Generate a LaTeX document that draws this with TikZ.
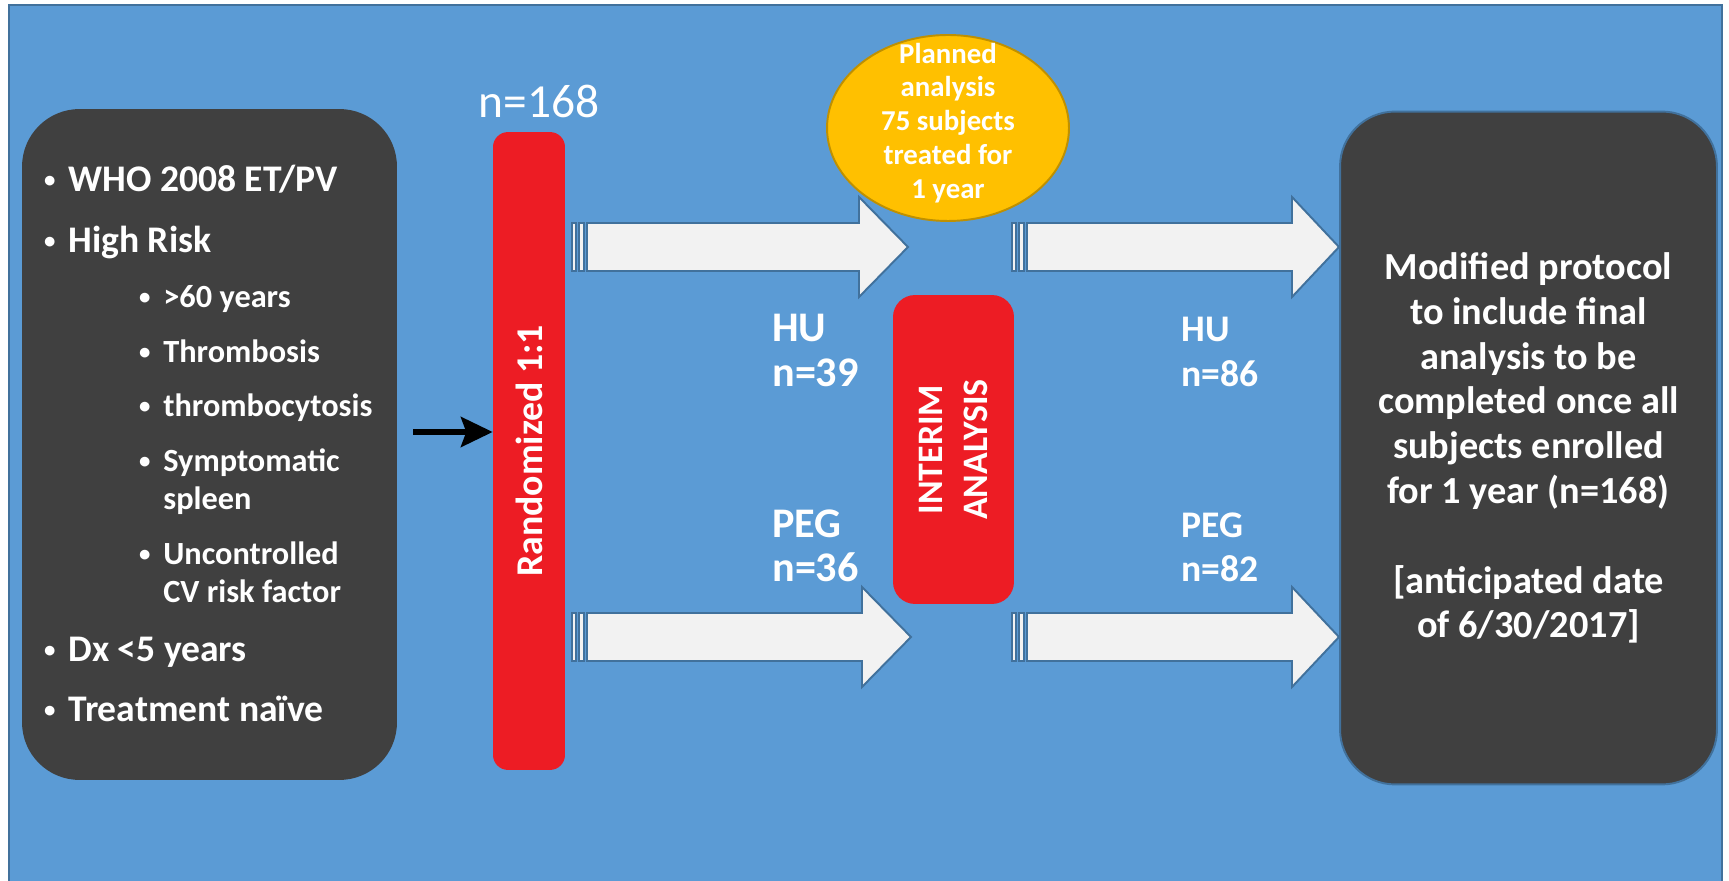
\documentclass[tikz,border=0pt]{standalone}
\usepackage{fontspec}
\setmainfont{Carlito}
\usepackage{tikz}
\usetikzlibrary{arrows.meta, positioning, shapes.geometric, calc}
\definecolor{bgblue}{HTML}{5B9BD5}
\definecolor{edgeblue}{HTML}{41719C}
\definecolor{darkbox}{HTML}{404040}
\definecolor{redbar}{HTML}{ED1C24}
\definecolor{gold}{HTML}{FFC000}
\definecolor{golddark}{HTML}{BF9000}
\definecolor{arrowfill}{HTML}{F2F2F2}
\newcommand{\dotmark}{\llap{\makebox[21pt]{\raisebox{0.12em}{\fontsize{13}{13}\selectfont\textbullet}}}}
\tikzset{%
	panel/.style={fill=darkbox, rounded corners=1.15cm, inner sep=0mm, text=white,%
		align=center, font=\fontsize{21.8}{25.5}\selectfont\bfseries},
	bar/.style={fill=redbar, text=white, inner sep=0mm, align=center,%
		font=\fontsize{20.4}{25.5}\selectfont\bfseries},
	plan/.style={ellipse, draw=golddark, fill=gold, line width=1.1pt, inner sep=0mm},
	plantext/.style={text=white, align=center, inner sep=0mm,%
		font=\fontsize{16.4}{19.3}\selectfont\bfseries},
	txt/.style={text=white, inner sep=0mm, anchor=base west},
	lbl/.style={txt, font=\fontsize{21.4}{24.5}\selectfont\bfseries},
	biglbl/.style={txt, font=\fontsize{24}{27}\selectfont\bfseries},
	item/.style={lbl, execute at begin node=\dotmark},
	subitem/.style={txt, font=\fontsize{18.4}{21.5}\selectfont\bfseries,%
		execute at begin node=\dotmark},
	subcont/.style={txt, font=\fontsize{18.4}{21.5}\selectfont\bfseries},
	blk/.style={draw=edgeblue, fill=arrowfill, line width=1.1pt},
	conn/.style={-{Stealth[length=18pt, width=17pt, inset=3pt]}, line width=3.4pt, black}
}
% striped block arrow: tail x, head start x, tip x, centre y
\newcommand{\stripearrow}[4]{%
	\draw[blk] (#1,#4-24) rectangle (#1+4,#4+24);
	\draw[blk] (#1+7,#4-24) rectangle (#1+12,#4+24);
	\draw[blk] (#1+15,#4-24) -- (#2,#4-24) -- (#2,#4-50) -- (#3,#4)
		-- (#2,#4+50) -- (#2,#4+24) -- (#1+15,#4+24) -- cycle;
}

\begin{document}
\begin{tikzpicture}[x=0.02cm, y=-0.02cm]
	\useasboundingbox (0,0) rectangle (1729,881);
	\draw[edgeblue, fill=bgblue, line width=1.6pt] (9,5) rectangle (1722,895);

	% inclusion criteria
	\node[panel, minimum width=7.5cm, minimum height=13.42cm] (crit) at (209.5,444.5) {};
	\node[item] (i1) at (68,192) {WHO 2008 ET/PV};
	\node[item] (i2) at (68,253) {High Risk};
	\node[subitem] (s1) at (163,308) {>60 years};
	\node[subitem] (s2) at (163,363) {Thrombosis};
	\node[subitem] (s3) at (163,417) {thrombocytosis};
	\node[subitem] (s4) at (163,472) {Symptomatic};
	\node[subcont] (s4b) at (163,510) {spleen};
	\node[subitem] (s5) at (163,565) {Uncontrolled};
	\node[subcont] (s5b) at (163,603) {CV risk factor};
	\node[item] (i3) at (68,662) {Dx <5 years};
	\node[item] (i4) at (68,722) {Treatment naïve};

	% randomisation
	\node[txt, anchor=base, font=\fontsize{27}{30}\selectfont] (ntot) at (539,118) {n=168};
	\node[bar, rotate=90, minimum width=12.76cm, minimum height=1.44cm,%
		rounded corners=0.3cm, font=\fontsize{21.5}{25.5}\selectfont\bfseries]
		(rand) at (529,451) {Randomized 1:1};
	\coordinate (a0) at (413,432);
	\draw[conn] (a0) -- (a0 -| rand.north);

	% first period
	\stripearrow{572}{859}{908}{247}
	\stripearrow{572}{862}{911}{637}
	\node[biglbl] (hu1) at (772,342) {HU};
	\node[biglbl] (hu1n) at (772,387) {n=39};
	\node[biglbl] (peg1) at (772,538) {PEG};
	\node[biglbl] (peg1n) at (772,582) {n=36};

	% interim analysis
	\node[plan, minimum width=4.84cm, minimum height=3.72cm] (plan) at (948,128) {};
	\node[plantext] (plantxt) at (948,123) {Planned\\analysis\\75 subjects\\treated for\\1 year};
	\node[bar, rotate=90, minimum width=6.18cm, minimum height=2.42cm,%
		rounded corners=0.44cm] (interim) at (953.5,449.5) {INTERIM\\ANALYSIS};

	% second period
	\stripearrow{1012}{1292}{1339}{247}
	\stripearrow{1012}{1292}{1339}{637}
	\node[lbl] (hu2) at (1181,342) {HU};
	\node[lbl] (hu2n) at (1181,387) {n=86};
	\node[lbl] (peg2) at (1181,538) {PEG};
	\node[lbl] (peg2n) at (1181,582) {n=82};

	% final analysis
	\node[panel, draw=edgeblue, line width=1.1pt, minimum width=7.54cm,%
		minimum height=13.46cm, rounded corners=1.1cm] (final) at (1528.5,448)
		{Modified protocol\\to include final\\analysis to be\\completed once all\\%
		subjects enrolled\\for 1 year (n=168)\\[25.5pt][anticipated date\\of 6/30/2017]};
\end{tikzpicture}
\end{document}
